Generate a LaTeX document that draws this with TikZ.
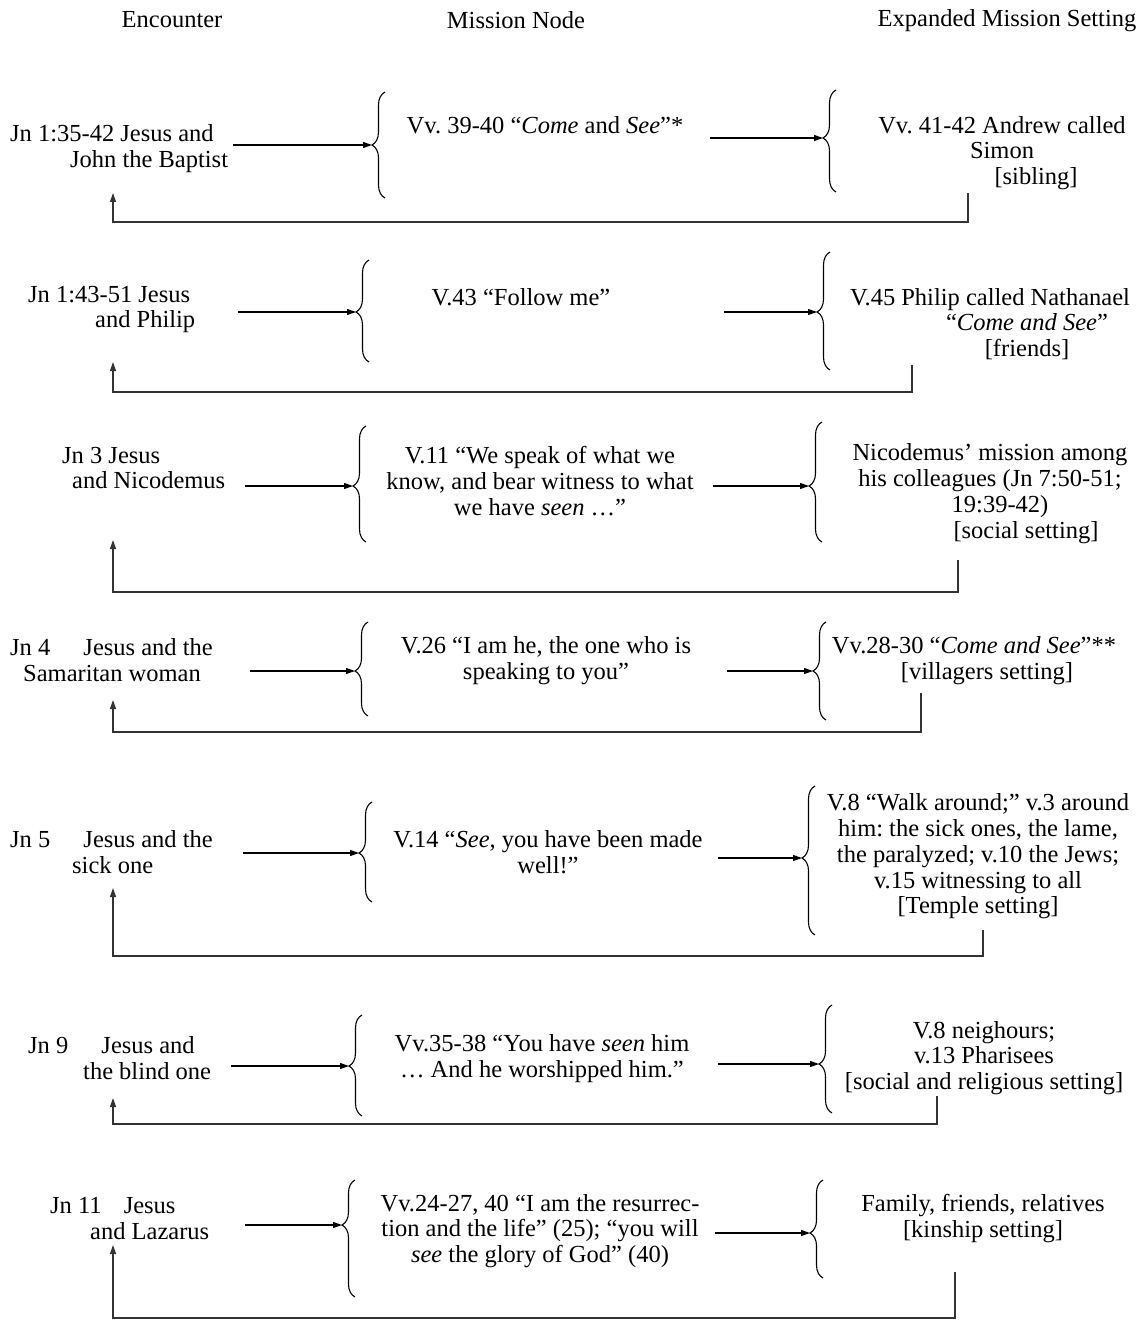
\documentclass[tikz,border=0pt]{standalone}
\usepackage{fontspec}
\setmainfont{Liberation Serif}
\usepackage{tikz}
\usetikzlibrary{arrows.meta, positioning, decorations.pathreplacing}
\frenchspacing

% brace: name, x, top, bottom, tip y
\newcommand{\mbrace}[5]{%
  \pgfmathsetmacro{\bAsp}{(#5-#3)/(#4-#3)}%
  \draw[brc, decoration={brace, mirror, amplitude=13pt, aspect=\bAsp}] (#2,#3) -- (#2,#4);
  \coordinate (#1) at (#2-13,#5);
}

\begin{document}
\begin{tikzpicture}[
  x=1pt, y=-1pt,
  txt/.style={font=\fontsize{24.5}{25.8}\selectfont, inner sep=0pt},
  enc/.style={txt, anchor=west, align=left},
  mis/.style={txt, align=center},
  brc/.style={decorate, line width=1.1pt},
  arr/.style={-{Triangle[length=9pt,width=6pt]}, line width=1.1pt},
  back/.style={arr, black!80}
]
\useasboundingbox (0,0) rectangle (1141,1321);

\node[txt] (h1) at (172,20) {Encounter};
\node[txt] (h2) at (516,20) {Mission Node};
\node[txt] (h3) at (1007,21) {Expanded Mission Setting};

% Jn 1:35-42
\node[enc] (enc1) at (10,149) {Jn 1:35-42 Jesus and\\\hspace*{60pt}John the Baptist};
\node[mis] (mis1) at (545,125) {Vv. 39-40 ``\emph{Come} and \emph{See}''*};
\node[mis] (exp1) at (1002,153) {Vv. 41-42 Andrew called\\Simon\\\hspace*{68pt}[sibling]};
\mbrace{b1a}{385}{92}{198}{145}
\mbrace{b1b}{836}{90}{192}{138}
\coordinate (s1a) at (233,145);
\coordinate (s1b) at (710,138);
\coordinate (f1) at (968,193);
\coordinate (r1) at (113,193);
\draw[arr] (s1a) -- (b1a);
\draw[arr] (s1b) -- (b1b);
\draw[back] (f1) -- ++(0,29) -| (r1);

% Jn 1:43-51
\node[enc] (enc2) at (28,309.5) {Jn 1:43-51 Jesus\\\hspace*{67pt}and Philip};
\node[mis] (mis2) at (521,297) {V.43 ``Follow me''};
\node[mis] (exp2) at (990,324) {V.45 Philip called Nathanael\\\hspace*{74pt}``\emph{Come and See}''\\\hspace*{74pt}[friends]};
\mbrace{b2a}{369}{260}{362}{312}
\mbrace{b2b}{830}{252}{370}{312}
\coordinate (s2a) at (238,312);
\coordinate (s2b) at (724,312);
\coordinate (f2) at (912,365);
\coordinate (r2) at (113,362);
\draw[arr] (s2a) -- (b2a);
\draw[arr] (s2b) -- (b2b);
\draw[back] (f2) -- ++(0,27) -| (r2);

% Jn 3
\node[enc] (enc3) at (62,468) {Jn 3 Jesus\\\hspace*{10pt}and Nicodemus};
\node[mis] (mis3) at (540,481) {V.11 ``We speak of what we\\know, and bear witness to what\\we have \emph{seen} \dots''};
\node[mis] (exp3) at (990,493.5) {Nicodemus' mission among\\his colleagues (Jn 7:50-51;\\\hspace*{20pt}19:39-42)\\\hspace*{72pt}[social setting]};
\mbrace{b3a}{366}{426}{542}{486}
\mbrace{b3b}{822}{422}{542}{486}
\coordinate (s3a) at (245,486);
\coordinate (s3b) at (713,486);
\coordinate (f3) at (958,560);
\coordinate (r3) at (113,540);
\draw[arr] (s3a) -- (b3a);
\draw[arr] (s3b) -- (b3b);
\draw[back] (f3) -- ++(0,32) -| (r3);

% Jn 4
\node[enc] (enc4) at (10,660.5) {Jn 4\hspace{27pt} Jesus and the\\\hspace*{13pt}Samaritan woman};
\node[mis] (mis4) at (546,660.5) {V.26 ``I am he, the one who is\\speaking to you''};
\node[mis] (exp4) at (974,660.5) {Vv.28-30 ``\emph{Come and See}''**\\\hspace*{26pt}[villagers setting]};
\mbrace{b4a}{368}{622}{716}{671}
\mbrace{b4b}{826}{622}{720}{671}
\coordinate (s4a) at (250,671);
\coordinate (s4b) at (727,671);
\coordinate (f4) at (921,693);
\coordinate (r4) at (113,700);
\draw[arr] (s4a) -- (b4a);
\draw[arr] (s4b) -- (b4b);
\draw[back] (f4) -- ++(0,39) -| (r4);

% Jn 5
\node[enc] (enc5) at (10,852.5) {Jn 5\hspace{27pt} Jesus and the\\\hspace*{62pt}sick one};
\node[mis] (mis5) at (548,852.5) {V.14 ``\emph{See}, you have been made\\well!''};
\node[mis] (exp5) at (978,856.5) {V.8 ``Walk around;'' v.3 around\\him: the sick ones, the lame,\\the paralyzed; v.10 the Jews;\\v.15 witnessing to all\\{[Temple setting]}};
\mbrace{b5a}{372}{802}{902}{853}
\mbrace{b5b}{815}{786}{935}{858}
\coordinate (s5a) at (243,853);
\coordinate (s5b) at (718,858);
\coordinate (f5) at (983,930);
\coordinate (r5) at (113,888);
\draw[arr] (s5a) -- (b5a);
\draw[arr] (s5b) -- (b5b);
\draw[back] (f5) -- ++(0,26) -| (r5);

% Jn 9
\node[enc] (enc6) at (28,1058.5) {Jn 9\hspace{27pt} Jesus and\\\hspace*{55pt}the blind one};
\node[mis] (mis6) at (542,1058.5) {Vv.35-38 ``You have \emph{seen} him\\\dots\ And he worshipped him.''};
\node[mis] (exp6) at (984,1058) {V.8 neighours;\\v.13 Pharisees\\{[social and religious setting]}};
\mbrace{b6a}{362}{1015}{1116}{1066}
\mbrace{b6b}{832}{1005}{1113}{1064}
\coordinate (s6a) at (231,1066);
\coordinate (s6b) at (718,1064);
\coordinate (f6) at (937,1096);
\coordinate (r6) at (113,1098);
\draw[arr] (s6a) -- (b6a);
\draw[arr] (s6b) -- (b6b);
\draw[back] (f6) -- ++(0,28) -| (r6);

% Jn 11
\node[enc] (enc7) at (50,1218.5) {Jn 11\hspace{16pt} Jesus\\\hspace*{40pt}and Lazarus};
\node[mis] (mis7) at (540,1231) {Vv.24-27, 40 ``I am the resurrec-\\tion and the life'' (25); ``you will\\\emph{see} the glory of God'' (40)};
\node[mis] (exp7) at (983,1218.5) {Family, friends, relatives\\{[kinship setting]}};
\mbrace{b7a}{355}{1180}{1297}{1225}
\mbrace{b7b}{823}{1180}{1278}{1233}
\coordinate (s7a) at (245,1225);
\coordinate (s7b) at (715,1233);
\coordinate (f7) at (955,1272);
\coordinate (r7) at (113,1245);
\draw[arr] (s7a) -- (b7a);
\draw[arr] (s7b) -- (b7b);
\draw[back] (f7) -- ++(0,46) -| (r7);

\end{tikzpicture}
\end{document}
